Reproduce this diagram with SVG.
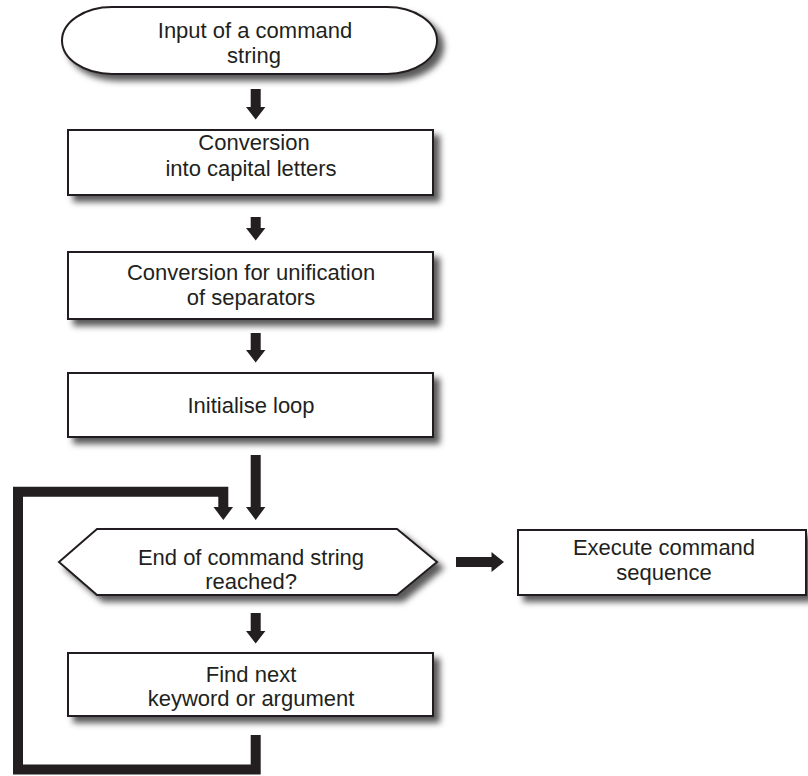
<svg xmlns="http://www.w3.org/2000/svg" width="808" height="776" viewBox="0 0 808 776">
  <defs>
    <filter id="shadow" x="-10%" y="-20%" width="130%" height="160%">
      <feDropShadow dx="6" dy="6" stdDeviation="3" flood-color="#000" flood-opacity="0.65"/>
    </filter>
  </defs>
  <style>
    .shape { fill: #fff; stroke: #231f20; stroke-width: 2; filter: url(#shadow); }
    .label { font-family: "Liberation Sans", Arial, sans-serif; font-size: 22px; fill: #231f20; text-anchor: middle; }
    .arrow { fill: #231f20; }
    .loop { fill: none; stroke: #231f20; stroke-width: 10; stroke-linejoin: miter; }
  </style>
  <rect width="808" height="776" fill="#fff"/>

  <!-- flow connectors -->
  <g id="connectors">
    <polygon class="arrow" points="250.7,89 260.7,89 260.7,107 265.4,107 255.7,119.5 246,107 250.7,107"/>
    <polygon class="arrow" points="250.7,217 260.7,217 260.7,228 265.4,228 255.7,240.5 246,228 250.7,228"/>
    <polygon class="arrow" points="250.7,333 260.7,333 260.7,350 265.4,350 255.7,362.5 246,350 250.7,350"/>
    <polygon class="arrow" points="250.7,455 260.7,455 260.7,507 265.4,507 255.7,520 246,507 250.7,507"/>
    <polygon class="arrow" points="250.7,613 260.7,613 260.7,631 265.4,631 255.7,643.5 246,631 250.7,631"/>
    <!-- branch to execution -->
    <polygon class="arrow" points="456,557 491.5,557 491.5,552 504,562 491.5,572 491.5,567 456,567"/>
    <!-- loop back to the test -->
    <path class="loop" d="M255.7,735 V769.5 H18 V491.7 H223.3 V508"/>
    <polygon class="arrow" points="213.5,507 233.1,507 223.3,520"/>
  </g>

  <g id="input">
    <path class="shape" d="M112,7 H387 A50,33.5 0 0 1 387,74 H112 A50,33.5 0 0 1 112,7 Z"/>
    <text class="label" x="255" y="38">Input of a command</text>
    <text class="label" x="254" y="63">string</text>
  </g>

  <g id="capitals">
    <rect class="shape" x="68" y="130" width="365" height="65"/>
    <text class="label" x="254" y="150">Conversion</text>
    <text class="label" x="251" y="176">into capital letters</text>
  </g>

  <g id="separators">
    <rect class="shape" x="68" y="252" width="365" height="67"/>
    <text class="label" x="251" y="280">Conversion for unification</text>
    <text class="label" x="251" y="305">of separators</text>
  </g>

  <g id="init-loop">
    <rect class="shape" x="68" y="373" width="365" height="64"/>
    <text class="label" x="251" y="413">Initialise loop</text>
  </g>

  <g id="end-test">
    <polygon class="shape" points="59,562 97,529 397,529 437,562 397,595 97,595"/>
    <text class="label" x="251" y="565">End of command string</text>
    <text class="label" x="251" y="589">reached?</text>
  </g>

  <g id="execute">
    <rect class="shape" x="518" y="530" width="288" height="65"/>
    <text class="label" x="664" y="555">Execute command</text>
    <text class="label" x="664" y="580">sequence</text>
  </g>

  <g id="next-token">
    <rect class="shape" x="68" y="653" width="365" height="63"/>
    <text class="label" x="251" y="682">Find next</text>
    <text class="label" x="251" y="706">keyword or argument</text>
  </g>
</svg>
